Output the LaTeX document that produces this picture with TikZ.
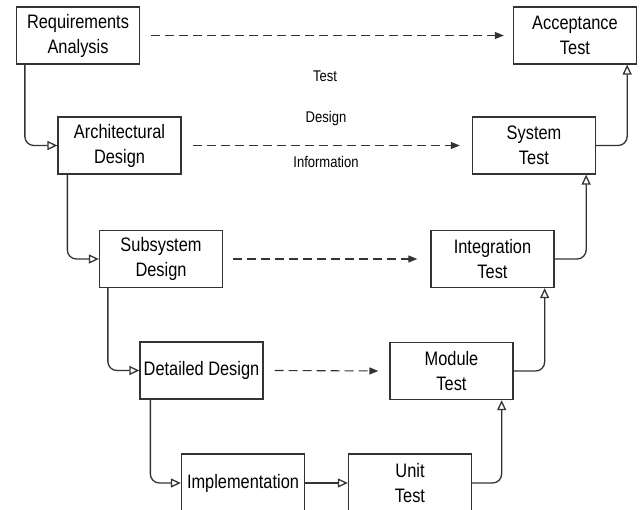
\documentclass[tikz,border=0pt]{standalone}
\usepackage{fontspec}
\setmainfont{Liberation Sans}[FakeStretch=0.84]
\usepackage{tikz}
\usetikzlibrary{positioning,calc,arrows.meta}

\tikzset{
    box/.style={draw=black!80, line width=1.3pt, minimum width=123pt, minimum height=57pt,
        inner sep=0pt, align=center, font=\fontsize{19.5}{25}\selectfont},
    flow/.style={draw=black!80, line width=1.3pt, rounded corners=9pt,
        -{Triangle[open,length=10pt,width=9pt]}},
    info/.style={draw=black!80, line width=1.1pt, dash pattern=on 9pt off 5pt,
        -{Triangle[length=9pt,width=7pt]}},
    lbl/.style={font=\fontsize{15.5}{17}\selectfont}
}

\begin{document}
\begin{tikzpicture}[x=1pt,y=-1pt]
    \useasboundingbox (0,0) rectangle (641,510);

    % Design side
    \node[box] (req) at (78,35.5) {Requirements\\Analysis};
    \node[box] (arch) at (119.5,145.5) {Architectural\\Design};
    \node[box] (subsys) at (161,259) {Subsystem\\Design};
    \node[box] (detail) at (201.5,370.5) {Detailed Design};
    \node[box, minimum height=58pt] (impl) at (243,483) {Implementation};

    % Test side
    \node[box] (accept) at (575,35.5) {Acceptance\\Test};
    \node[box] (systest) at (534,145.5) {System\\Test};
    \node[box] (integ) at (492.5,259) {Integration\\Test};
    \node[box] (module) at (451.5,371) {Module\\Test};
    \node[box, minimum height=58pt] (unit) at (410,483) {Unit\\Test};

    % Going down
    \draw[flow] ([xshift=9pt]req.south west) |- (arch.west);
    \draw[flow] ([xshift=10pt]arch.south west) |- (subsys.west);
    \draw[flow] ([xshift=9pt]subsys.south west) |- (detail.west);
    \draw[flow] ([xshift=11pt]detail.south west) |- (impl.west);
    \draw[flow] (impl.east) -- (unit.west);

    % Going up
    \draw[flow] (unit.east) -| ([xshift=-12pt]module.south east);
    \draw[flow] (module.east) -| ([xshift=-10pt]integ.south east);
    \draw[flow] (integ.east) -| ([xshift=-10pt]systest.south east);
    \draw[flow] (systest.east) -| ([xshift=-10pt]accept.south east);

    % Test design information
    \draw[info] ([xshift=11pt]req.east) -- ([xshift=-9pt]accept.west);
    \draw[info] ([xshift=11pt]arch.east) -- ([xshift=-12pt]systest.west);
    \draw[info] ([xshift=10pt]subsys.east) -- ([xshift=-13pt]integ.west);
    \draw[info] ([xshift=11pt]detail.east) -- ([xshift=-11pt]module.west);

    \node[lbl] (lt) at (325,76) {Test};
    \node[lbl] (ld) at (326,118) {Design};
    \node[lbl] (li) at (326,162) {Information};
\end{tikzpicture}
\end{document}
